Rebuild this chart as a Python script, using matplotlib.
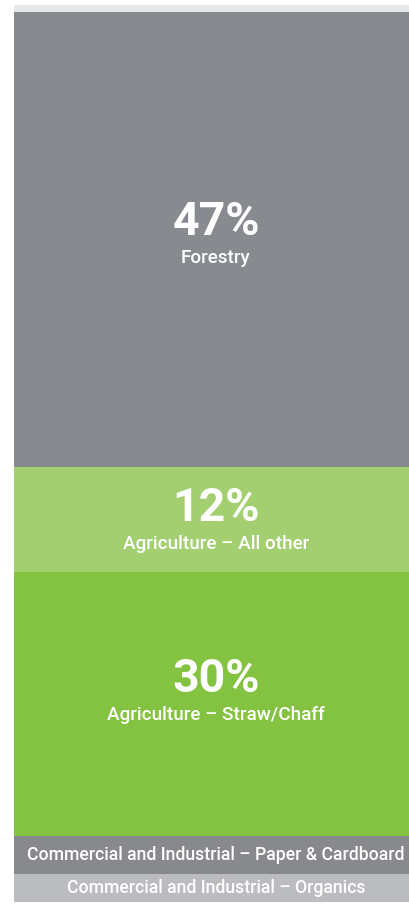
import numpy as np
import matplotlib.pyplot as plt

# segments from bottom to top, shares of bar height
segments = ['Commercial and Industrial – Organics',
            'Commercial and Industrial – Paper & Cardboard',
            'Agriculture – Straw/Chaff',
            'Agriculture – All other',
            'Forestry',
            '']
shares = [3.1, 4.2, 29.5, 11.7, 50.6, 0.8]
pct_labels = ['', '', '30%', '12%', '47%', '']
colors = ['#bbbcbf', '#87898d', '#84c341', '#a3cf71', '#878a8f', '#e6e7e8']
# vertical nudge of the big-number block (pixels, up is positive)
nudge = [0, 0, 10, -4, 2, 0]
dx = 4  # text sits a little right of the bar centre

plt.rcParams['font.family'] = ['Roboto', 'DejaVu Sans']

fig = plt.figure(figsize=(4.10, 9.08), dpi=100)
ax = fig.add_axes([14 / 410, 6 / 908, 396 / 410, 897 / 908])

bottoms = np.concatenate([[0], np.cumsum(shares)[:-1]])
ax.bar([0] * len(shares), shares, bottom=bottoms, width=1, color=colors,
       linewidth=0)

for name, s, b, pct, dy in zip(segments, shares, bottoms, pct_labels, nudge):
    mid = b + s / 2
    if pct:
        ax.annotate(pct, (0, mid), xytext=(dx, dy + 2), textcoords='offset pixels',
                    ha='center', va='baseline', color='white',
                    fontsize=33.5, fontweight='bold')
        ax.annotate(name, (0, mid), xytext=(dx, dy - 26), textcoords='offset pixels',
                    ha='center', va='baseline', color='white',
                    fontsize=13.6, fontweight='medium')
    elif name:
        ax.annotate(name, (0, mid), xytext=(dx, -5), textcoords='offset pixels',
                    ha='center', va='baseline', color='white',
                    fontsize=12.7, fontweight='medium')

ax.set_xlim(-0.5, 0.5)
ax.set_ylim(0, sum(shares))
ax.axis('off')

fig.savefig('out.png', dpi=100, facecolor='white')
